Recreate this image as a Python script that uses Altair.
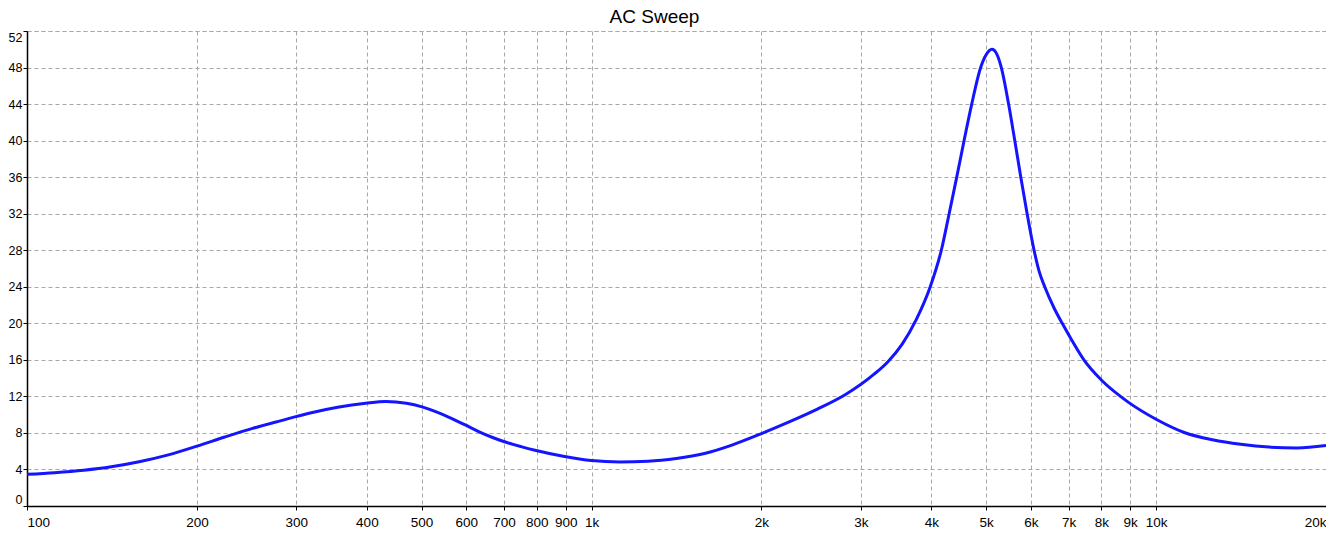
import altair as alt
import pandas as pd

freq = [100, 112, 126, 141, 158, 178, 200, 224, 251, 282, 316, 355, 398, 432, 470, 501,
        531, 562, 596, 631, 668, 708, 750, 794, 891, 1000, 1122, 1259, 1413, 1585, 1778,
        1995, 2239, 2512, 2818, 3162, 3350, 3548, 3760, 3981, 4165, 4300, 4435, 4570, 4715,
        4890, 5000, 5120, 5220, 5320, 5480, 5620, 5760, 5910, 6080, 6200, 6350, 6600, 6820,
        7100, 7450, 8000, 8650, 8913, 10000, 11220, 12589, 14125, 15849, 17783, 20000]
gain = [3.47, 3.65, 3.92, 4.3, 4.85, 5.6, 6.55, 7.55, 8.5, 9.35, 10.15, 10.8, 11.25, 11.45, 11.25,
        10.85, 10.3, 9.65, 8.9, 8.15, 7.5, 6.95, 6.5, 6.1, 5.45, 4.98, 4.83, 4.9, 5.2, 5.75,
        6.7, 7.9, 9.2, 10.6, 12.2, 14.4, 15.8, 17.7, 20.4, 24.0, 28.0, 32.0, 36.0, 40.0, 44.0,
        48.0, 49.4, 50.0, 49.5, 48.0, 44.0, 40.0, 36.0, 32.0, 28.0, 25.8, 24.0, 21.65, 20.0,
        18.1, 16.0, 13.8, 12.0, 11.4, 9.5, 8.05, 7.25, 6.75, 6.45, 6.36, 6.62]

x_ticks = [100, 200, 300, 400, 500, 600, 700, 800, 900, 1000, 2000, 3000, 4000, 5000,
           6000, 7000, 8000, 9000, 10000, 20000]
y_ticks = list(range(0, 53, 4))

df = pd.DataFrame({"f": freq, "g": gain})

FONT = "Liberation Sans"
GRID = "#a8a8a8"

line = alt.Chart(df).mark_line(color="#1414ff", strokeWidth=3, interpolate="monotone").encode(
    x=alt.X("f:Q",
            scale=alt.Scale(type="log", domain=[100, 20000], nice=False),
            axis=alt.Axis(values=x_ticks, title=None, grid=True,
                          labelExpr="datum.value >= 1000 ? (datum.value / 1000) + 'k' : datum.value",
                          labelFlush=True, labelFont=FONT, labelFontSize=13.5, labelColor="black",
                          labelPadding=5, tickSize=4, tickColor="black",
                          domainColor="black", domainWidth=1.5,
                          gridColor=GRID, gridDash=[4, 3], gridWidth=1)),
    y=alt.Y("g:Q",
            scale=alt.Scale(domain=[0, 52], nice=False, zero=False),
            axis=alt.Axis(values=y_ticks, title=None, grid=True,
                          labelFlush=True, labelFont=FONT, labelFontSize=12.5, labelColor="black",
                          labelPadding=1, tickSize=4, tickColor="black",
                          domainColor="black", domainWidth=1.5,
                          gridColor=GRID, gridDash=[4, 3], gridWidth=1)),
)

chart = line.properties(
    width=1299,
    height=475,
    title=alt.TitleParams("AC Sweep", font=FONT, fontSize=19, fontWeight="normal",
                          color="black", anchor="middle", dx=-22, offset=4),
    autosize=alt.AutoSizeParams(type="none"),
    padding={"left": 19, "top": 23, "right": 0, "bottom": 30},
).configure_view(stroke=GRID, strokeDash=[4, 3], strokeWidth=1)

chart.save("out.html", embed_options={"renderer": "svg", "actions": False})
